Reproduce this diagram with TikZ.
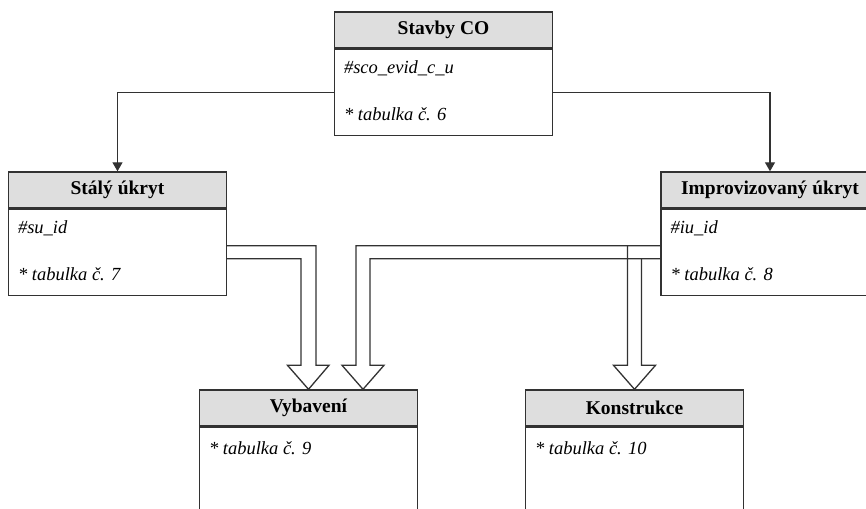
\documentclass[tikz,border=0pt]{standalone}
\usepackage{fontspec}
\setmainfont{Liberation Serif}
\usetikzlibrary{calc,arrows.meta}
\definecolor{linec}{RGB}{50,50,50}
\definecolor{hdrfill}{RGB}{222,222,222}
\begin{document}
\begin{tikzpicture}[x=1pt,y=-1pt,
  hdr/.style={draw=linec, line width=1.4pt, fill=hdrfill, minimum width=218pt,
    minimum height=36pt, inner sep=0pt, font=\fontsize{19.5}{21}\selectfont\bfseries},
  bodybox/.style={draw=linec, line width=1.4pt, fill=white, minimum width=218pt,
    minimum height=#1, inner sep=0pt, anchor=north},
  attr/.style={anchor=west, inner sep=0pt, font=\fontsize{18.5}{20}\selectfont\itshape},
  link/.style={draw=linec, line width=1.3pt, -{Triangle[width=10pt,length=9pt]}},
  hollow/.style={draw=linec, line width=1.3pt, line join=miter}]
\useasboundingbox (0,0) rectangle (866,508);
\clip (0,0) rectangle (866,508);

% --- classes ---
\node[hdr] (sco) at (443.5,30) {Stavby CO};
\node[bodybox=86pt] (sco-b) at (sco.south) {};
\node[attr] (sco-k) at ($(sco-b.north west)+(10,20)$) {\#sco\_evid\_c\_u};
\node[attr] (sco-t) at ($(sco-b.north west)+(10,65)$) {* tabulka č. 6};

\node[hdr] (su) at (117.5,190) {Stálý úkryt};
\node[bodybox=86pt] (su-b) at (su.south) {};
\node[attr] (su-k) at ($(su-b.north west)+(10,20)$) {\#su\_id};
\node[attr] (su-t) at ($(su-b.north west)+(10,65)$) {* tabulka č. 7};

\node[hdr] (iu) at (770,190) {Improvizovaný úkryt};
\node[bodybox=86pt] (iu-b) at (iu.south) {};
\node[attr] (iu-k) at ($(iu-b.north west)+(10,20)$) {\#iu\_id};
\node[attr] (iu-t) at ($(iu-b.north west)+(10,65)$) {* tabulka č. 8};

\node[hdr] (vb) at (308.5,408) {Vybavení};
\node[bodybox=120pt] (vb-b) at (vb.south) {};
\node[attr] (vb-t) at ($(vb-b.north west)+(10,21)$) {* tabulka č. 9};

\node[hdr] (ko) at (634.5,408) {Konstrukce};
\node[bodybox=120pt] (ko-b) at (ko.south) {};
\node[attr] (ko-t) at ($(ko-b.north west)+(10,21)$) {* tabulka č. 10};

% --- generalisation links ---
\draw[link] (sco-b.west) -| (su.north);
\draw[link] (sco-b.east) -| (iu.north);

% --- hollow double-line arrows ---
\coordinate (s1t) at ($(su-b.north east)+(0,37)$);
\coordinate (s1b) at ($(su-b.north east)+(0,50)$);
\coordinate (s2t) at ($(iu-b.north west)+(0,37)$);
\coordinate (s2b) at ($(iu-b.north west)+(0,50)$);
\coordinate (t2) at ($(vb.north)+(54.5,0)$);
\coordinate (k3l) at ($(ko.north)+(-7,-24)$);
\coordinate (k3r) at ($(ko.north)+(7,-24)$);

\draw[hollow] (s1t) -| ($(vb.north)+(7.5,-24)$) -- ++(13,0) -- (vb.north)
  -- ++(-21,-24) -- ++(13.5,0) |- (s1b);
\draw[hollow] (s2t) -| ($(t2)+(-7,-24)$) -- ++(-14,0) -- (t2)
  -- ++(21,-24) -- ++(-14,0) |- (s2b);
\draw[hollow] (k3l |- s2t) -- (k3l) -- ++(-14,0) -- (ko.north)
  -- ++(21,-24) -- (k3r) -- (k3r |- s2b);
\end{tikzpicture}
\end{document}
